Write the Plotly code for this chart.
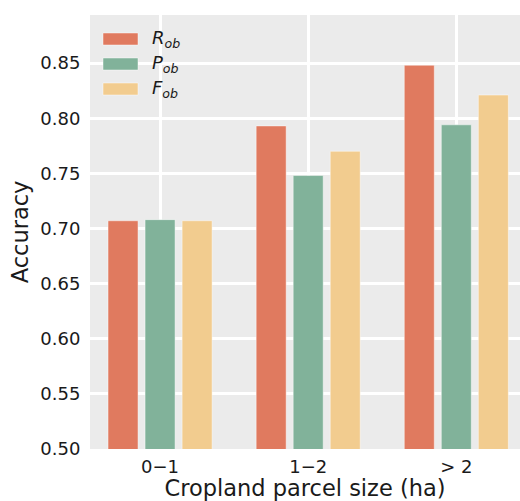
import plotly.graph_objects as go

categories = ["0\u22121", "1\u22122", "> 2"]
series_names = ["<i>R</i><sub><i>ob</i></sub>", "<i>P</i><sub><i>ob</i></sub>", "<i>F</i><sub><i>ob</i></sub>"]
r_ob = [0.707, 0.793, 0.848]
p_ob = [0.708, 0.748, 0.794]
f_ob = [0.707, 0.770, 0.821]
colors = ["#E07A5F", "#81B29A", "#F2CC8F"]
y_ticks = [0.50, 0.55, 0.60, 0.65, 0.70, 0.75, 0.80, 0.85]

W, H = 520, 501
ml, mr, mt, mb = 90, 0, 15, 52

fig = go.Figure()
for name, vals, col in zip(series_names, [r_ob, p_ob, f_ob], colors):
    fig.add_trace(go.Bar(
        x=categories, y=vals, name=name,
        marker=dict(color=col, line=dict(color="rgba(255,255,255,0.45)", width=1)),
        showlegend=False,
    ))

# manual legend (matplotlib-like wide swatches)
pw = W - ml - mr
ph = H - mt - mb
def px_x(x):
    return (x - ml) / pw
def px_y(y):
    return 1 - (y - mt) / ph

legend_rows = [39, 64, 89]
for name, col, yc in zip(series_names, colors, legend_rows):
    fig.add_shape(type="rect", xref="paper", yref="paper",
                  x0=px_x(103), x1=px_x(138), y0=px_y(yc + 6), y1=px_y(yc - 6),
                  fillcolor=col, line=dict(color="rgba(255,255,255,0.45)", width=1))
    fig.add_annotation(xref="paper", yref="paper", x=px_x(150), y=px_y(yc),
                       text=name, showarrow=False, xanchor="left", yanchor="middle",
                       font=dict(size=18, color="#1a1a1a"))

fig.update_layout(
    width=W, height=H,
    margin=dict(l=ml, r=mr, t=mt, b=mb),
    paper_bgcolor="white",
    plot_bgcolor="#EBEBEB",
    barmode="group",
    bargap=0.25,
    bargroupgap=0.19,
    font=dict(family="DejaVu Sans", size=18, color="#1a1a1a"),
)
fig.update_xaxes(
    range=[-0.473, 2.43],
    showgrid=True, gridcolor="white", gridwidth=2.5,
    ticks="outside", ticklen=1, tickcolor="rgba(0,0,0,0)",
    tickfont=dict(size=18, family="DejaVu Sans"),
    title=dict(text="Cropland parcel size (ha)", font=dict(size=22.5, family="DejaVu Sans"), standoff=4),
    zeroline=False, showline=False,
)
fig.update_yaxes(
    range=[0.5, 0.8936],
    tickvals=y_ticks, ticktext=[f"{v:.2f}" for v in y_ticks],
    showgrid=True, gridcolor="white", gridwidth=2.5,
    ticks="outside", ticklen=5, tickcolor="rgba(0,0,0,0)",
    tickfont=dict(size=18, family="DejaVu Sans"),
    title=dict(text="Accuracy", font=dict(size=22.5, family="DejaVu Sans"), standoff=5),
    zeroline=False, showline=False,
)

fig.write_html("out.html")
